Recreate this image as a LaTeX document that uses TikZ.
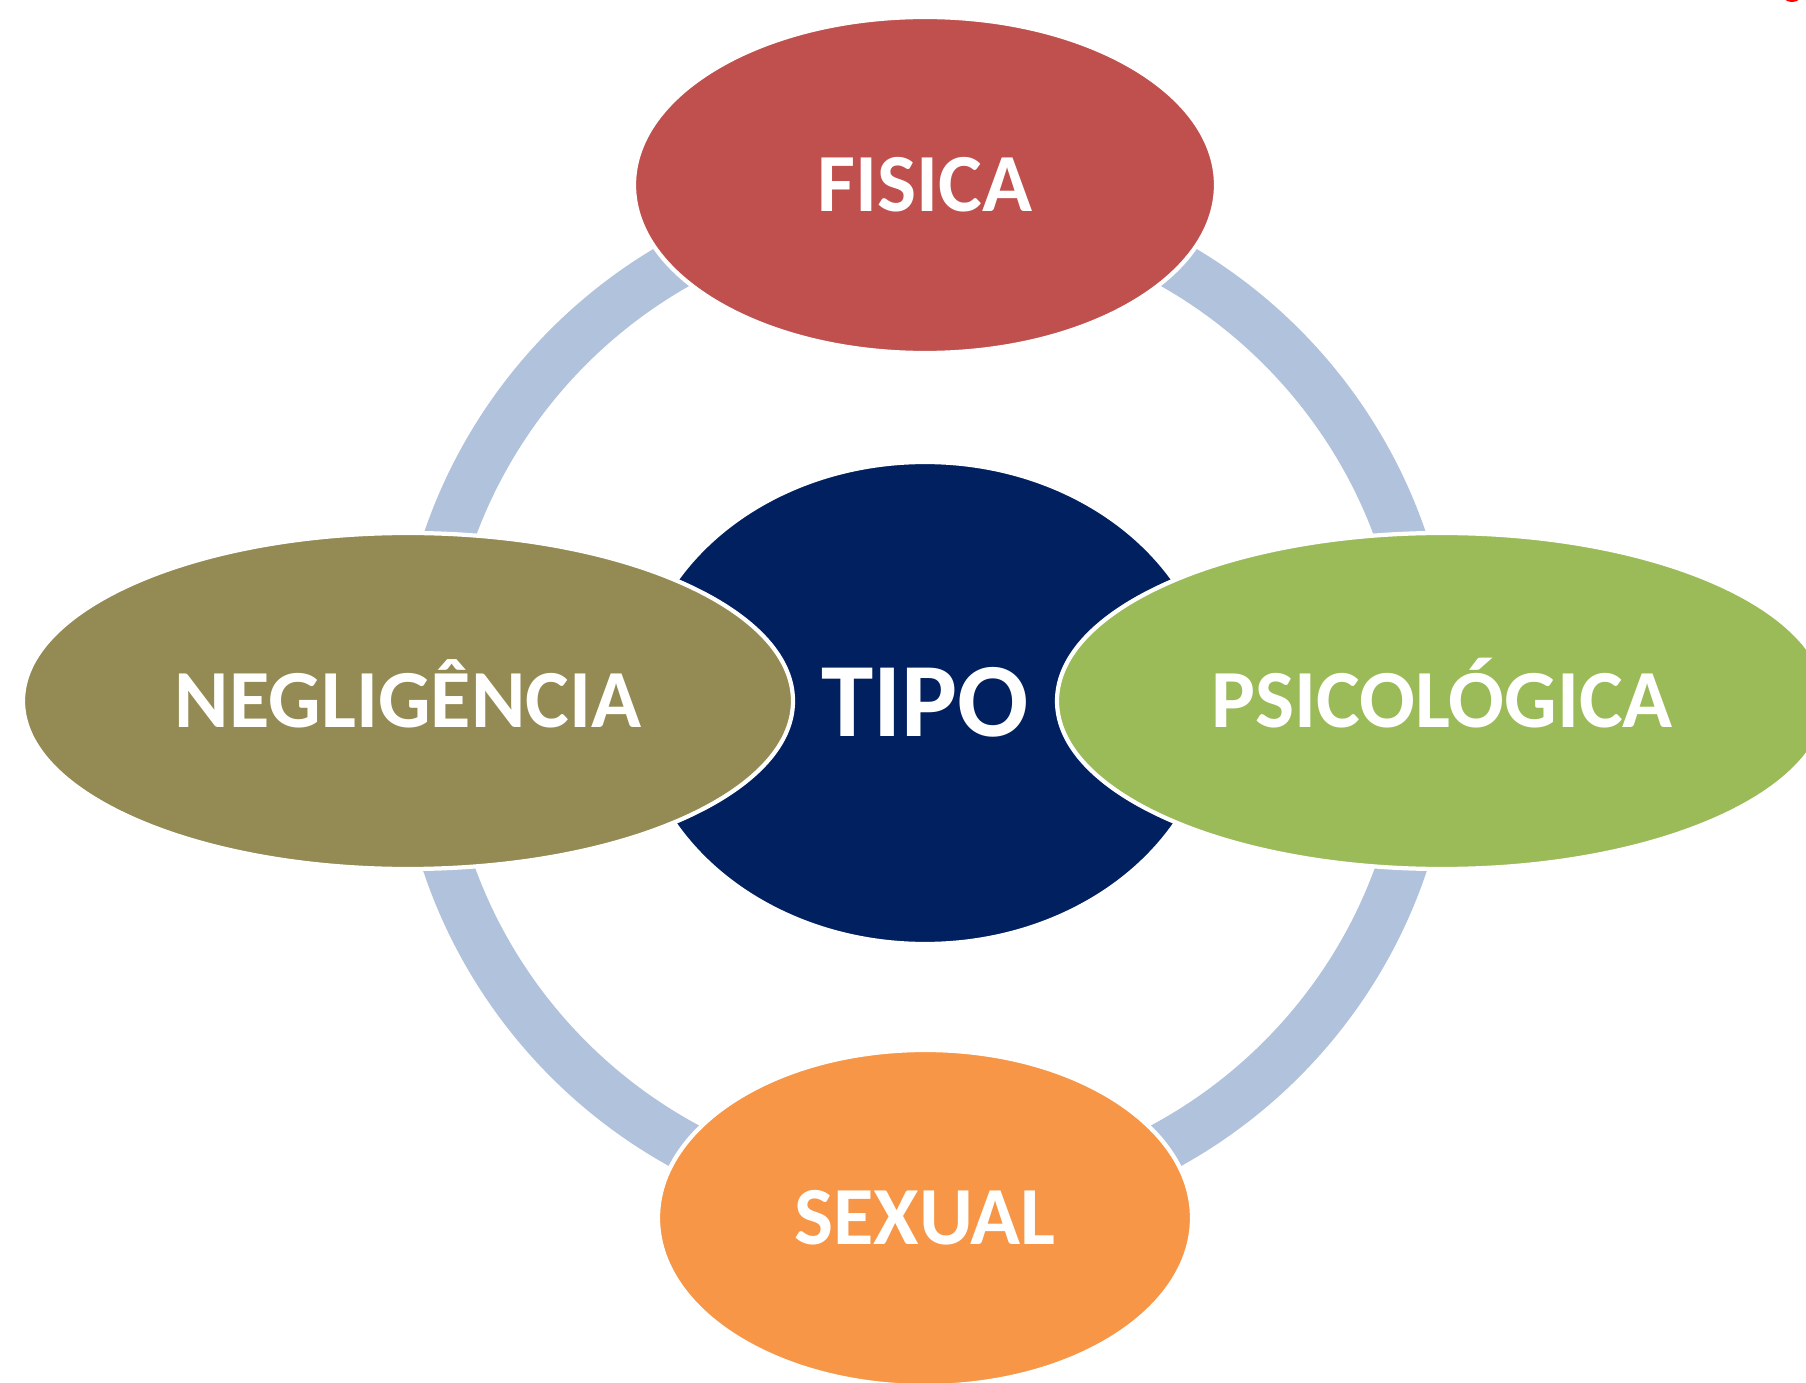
\documentclass[tikz,border=0pt]{standalone}
\usepackage{fontspec}
\setmainfont{Carlito}
\usetikzlibrary{shapes.geometric,positioning}
\definecolor{ringblue}{HTML}{B1C2DC}
\definecolor{tiponavy}{HTML}{002060}
\definecolor{fisred}{HTML}{C0504D}
\definecolor{negolive}{HTML}{948A54}
\definecolor{psigreen}{HTML}{9BBB59}
\definecolor{sexorange}{HTML}{F79646}
\tikzstyle{bubble} = [ellipse, draw=white, line width=1.2pt, inner sep=0pt, text=white, text height=0.53cm, text depth=0pt, font=\fontsize{23.5}{26}\selectfont\bfseries]

\begin{document}
\begin{tikzpicture}
\clip (0,0) rectangle (18.06,-13.83);
\fill[white] (0,0) rectangle (18.06,-13.83);
\coordinate (c) at (9.25,-7.03);
% ring behind the bubbles
\draw[ringblue, line width=0.5cm] (c) circle (5.04);
\node[bubble, fill=tiponavy, minimum width=5.78cm, minimum height=4.82cm, text height=0.67cm, font=\fontsize{30}{34}\selectfont\bfseries] (tipo) at (c) {TIPO};
\node[bubble, fill=fisred, minimum width=5.82cm, minimum height=3.36cm] (fisica) at (9.25,-1.85) {FISICA};
\node[bubble, fill=negolive, minimum width=7.70cm, minimum height=3.36cm] (negligencia) at (4.08,-7.01) {NEGLIGÊNCIA};
\node[bubble, fill=psigreen, minimum width=7.70cm, minimum height=3.36cm] (psicologica) at (14.42,-7.01) {PSICOLÓGICA};
\node[bubble, fill=sexorange, minimum width=5.34cm, minimum height=3.36cm] (sexual) at (9.25,-12.18) {SEXUAL};
\fill[red] (17.92,0.06) ellipse (0.1 and 0.08);
\end{tikzpicture}
\end{document}
